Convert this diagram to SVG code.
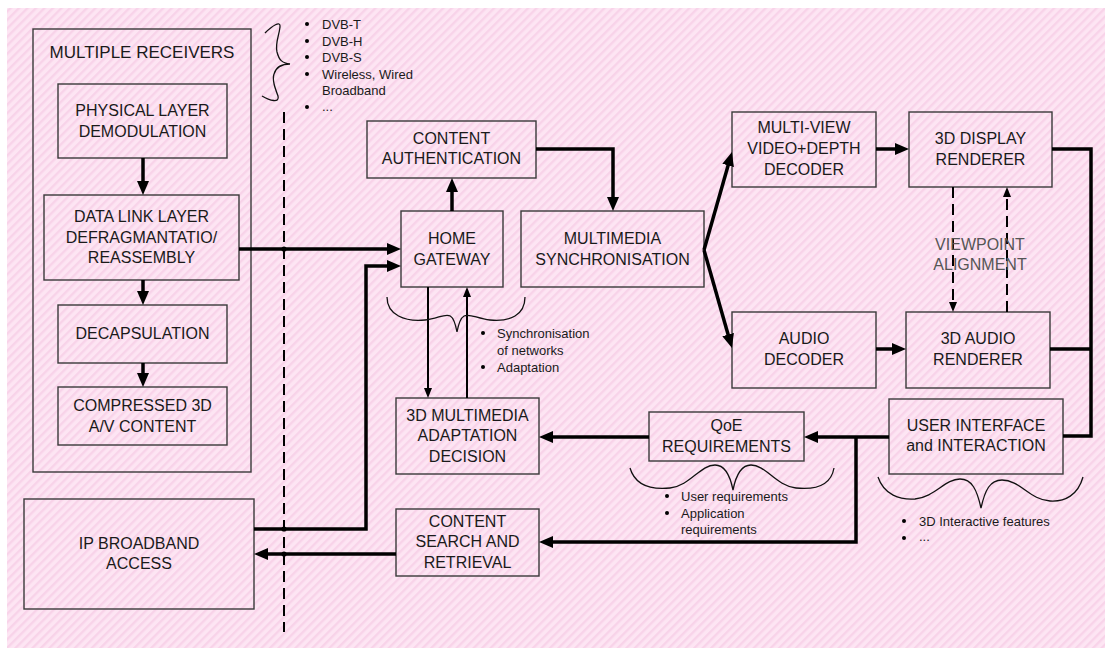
<svg xmlns="http://www.w3.org/2000/svg" width="1105" height="648" viewBox="0 0 1105 648">
<defs>
<pattern id="hatch" patternUnits="userSpaceOnUse" width="6" height="6" patternTransform="rotate(45)">
<rect width="6" height="6" fill="#fde5f3"/>
<rect width="2.4" height="6" fill="#f8d3e9"/>
</pattern>
<marker id="ah" viewBox="0 0 14 12" markerWidth="14" markerHeight="12" refX="8" refY="6" orient="auto" markerUnits="userSpaceOnUse"><path d="M0,0 L14,6 L0,12 z" fill="#000"/></marker>
<marker id="at" viewBox="0 0 10 8" markerWidth="10" markerHeight="8" refX="6" refY="4" orient="auto" markerUnits="userSpaceOnUse"><path d="M0,0 L10,4 L0,8 z" fill="#000"/></marker>
</defs>
<style>
.box{fill:none;stroke:#3a3a3a;stroke-width:1.4}
.lbl{font-family:"Liberation Sans",Arial,sans-serif;font-size:16px;fill:#1a1a1a;text-anchor:middle}
.bt{font-family:"Liberation Sans",Arial,sans-serif;font-size:13px;fill:#1a1a1a}
.thick{fill:none;stroke:#000;stroke-width:3.5}
.thin{fill:none;stroke:#000;stroke-width:2}
.dash{fill:none;stroke:#000;stroke-width:2;stroke-dasharray:11 6}
.brace{fill:none;stroke:#111;stroke-width:1.3}
.dot{fill:#000}
</style>
<rect x="7" y="8" width="1098" height="640" fill="url(#hatch)"/>

<g id="receivers">
<rect class="box" x="33" y="29" width="218" height="443"/>
<text class="lbl" x="142" y="58" style="font-size:17px">MULTIPLE RECEIVERS</text>
</g>
<g id="physical">
<rect class="box" x="58" y="84" width="169" height="74"/>
<text class="lbl" x="142.5" y="116">PHYSICAL LAYER</text>
<text class="lbl" x="142.5" y="137">DEMODULATION</text>
</g>
<g id="datalink">
<rect class="box" x="44" y="195" width="195" height="85"/>
<text class="lbl" x="141.5" y="222">DATA LINK LAYER</text>
<text class="lbl" x="141.5" y="243">DEFRAGMANTATIO/</text>
<text class="lbl" x="141.5" y="263">REASSEMBLY</text>
</g>
<g id="decap">
<rect class="box" x="58" y="305" width="169" height="58"/>
<text class="lbl" x="142.5" y="339">DECAPSULATION</text>
</g>
<g id="compressed">
<rect class="box" x="58" y="387" width="169" height="58"/>
<text class="lbl" x="142.5" y="411">COMPRESSED 3D</text>
<text class="lbl" x="142.5" y="432">A/V CONTENT</text>
</g>
<g id="ipbroadband">
<rect class="box" x="24" y="499" width="230" height="110"/>
<text class="lbl" x="139" y="549">IP BROADBAND</text>
<text class="lbl" x="139" y="569">ACCESS</text>
</g>
<g id="contentauth">
<rect class="box" x="367" y="121" width="169" height="57"/>
<text class="lbl" x="451.5" y="144">CONTENT</text>
<text class="lbl" x="451.5" y="164">AUTHENTICATION</text>
</g>
<g id="homegateway">
<rect class="box" x="401" y="211" width="102" height="76"/>
<text class="lbl" x="452" y="244">HOME</text>
<text class="lbl" x="452" y="265">GATEWAY</text>
</g>
<g id="sync">
<rect class="box" x="521" y="211" width="183" height="76"/>
<text class="lbl" x="612.5" y="244">MULTIMEDIA</text>
<text class="lbl" x="612.5" y="265">SYNCHRONISATION</text>
</g>
<g id="adaptation">
<rect class="box" x="396" y="398" width="143" height="76"/>
<text class="lbl" x="467.5" y="421">3D MULTIMEDIA</text>
<text class="lbl" x="467.5" y="441">ADAPTATION</text>
<text class="lbl" x="467.5" y="462">DECISION</text>
</g>
<g id="contentsearch">
<rect class="box" x="396" y="509" width="143" height="67"/>
<text class="lbl" x="467.5" y="527">CONTENT</text>
<text class="lbl" x="467.5" y="547">SEARCH AND</text>
<text class="lbl" x="467.5" y="568">RETRIEVAL</text>
</g>
<g id="qoe">
<rect class="box" x="649" y="412" width="155" height="49"/>
<text class="lbl" x="726.5" y="431">QoE</text>
<text class="lbl" x="726.5" y="452">REQUIREMENTS</text>
</g>
<g id="userinterface">
<rect class="box" x="889" y="399" width="174" height="75"/>
<text class="lbl" x="976" y="431">USER INTERFACE</text>
<text class="lbl" x="976" y="451">and INTERACTION</text>
</g>
<g id="multiview">
<rect class="box" x="732" y="112" width="144" height="75"/>
<text class="lbl" x="804" y="133">MULTI-VIEW</text>
<text class="lbl" x="804" y="154">VIDEO+DEPTH</text>
<text class="lbl" x="804" y="175">DECODER</text>
</g>
<g id="display">
<rect class="box" x="909" y="112" width="143" height="75"/>
<text class="lbl" x="980.5" y="144">3D DISPLAY</text>
<text class="lbl" x="980.5" y="165">RENDERER</text>
</g>
<g id="audiodecoder">
<rect class="box" x="732" y="312" width="144" height="76"/>
<text class="lbl" x="804" y="344">AUDIO</text>
<text class="lbl" x="804" y="365">DECODER</text>
</g>
<g id="audiorenderer">
<rect class="box" x="906" y="312" width="144" height="76"/>
<text class="lbl" x="978" y="344">3D AUDIO</text>
<text class="lbl" x="978" y="365">RENDERER</text>
</g>

<g id="connectors">
<path class="dash" d="M284,112 V632" stroke-dasharray="12 6"/>
<path class="thick" d="M143,158 V189" marker-end="url(#ah)"/>
<path class="thick" d="M143,280 V299" marker-end="url(#ah)"/>
<path class="thick" d="M143,363 V381" marker-end="url(#ah)"/>
<path class="thick" d="M239,249 H395" marker-end="url(#ah)"/>
<path class="thick" d="M254,529 H366 V266 H395" marker-end="url(#ah)"/>
<path class="thick" d="M452,211 V184" marker-end="url(#ah)"/>
<path class="thick" d="M536,149 H613 V205" marker-end="url(#ah)"/>
<path class="thick" d="M704,250 L730.3,157.8" marker-end="url(#ah)"/>
<path class="thick" d="M704,250 L730.3,342.2" marker-end="url(#ah)"/>
<path class="thick" d="M876,149 H903" marker-end="url(#ah)"/>
<path class="thick" d="M876,349 H900" marker-end="url(#ah)"/>
<path class="dash" d="M953,187 V308" marker-end="url(#at)"/>
<path class="dash" d="M1007,312 V191" marker-end="url(#at)"/>
<path class="thick" d="M1052,149 H1091 V436 H1063"/>
<path class="thick" d="M1050,349 H1091"/>
<path class="thick" d="M889,437 H810" marker-end="url(#ah)"/>
<path class="thick" d="M856,437 V542 H545" marker-end="url(#ah)"/>
<path class="thick" d="M649,437 H545" marker-end="url(#ah)"/>
<path class="thick" d="M396,554 H260" marker-end="url(#ah)"/>
<path class="thin" d="M428,287 V394" marker-end="url(#at)"/>
<path class="thin" d="M467,398 V291" marker-end="url(#at)"/>
<circle class="dot" cx="284" cy="249" r="2.6"/>
<circle class="dot" cx="284" cy="529" r="2.6"/>
<circle class="dot" cx="284" cy="554" r="2.6"/>
</g>

<g id="viewpoint">
<text class="lbl" x="980" y="250" style="fill:#555">VIEWPOINT</text>
<text class="lbl" x="980" y="270" style="fill:#555">ALIGNMENT</text>
</g>

<g id="braces">
<path class="brace" d="M265,33 C272,26 281,20 280,27 C279,36 275,43 277,52 C279,60 282,63 290,64 C282,64 276,67 274,74 C272,80 275,88 278,96 C280,103 270,101 262,96"/>
<path class="brace" d="M387,297 C387,315 405,322 425,320 C445,318 452,305 457,332 C462,305 470,318 490,320 C510,322 525,315 525,297"/>
<path class="brace" d="M630,468 C635,485 650,490 670,488 C690,486 700,465 715,465 C725,465 730,475 733,490 C736,475 741,465 751,465 C766,465 776,486 796,488 C816,490 831,485 834,468"/>
<path class="brace" d="M878,477 C884,495 900,500 915,499 C935,497 945,479 960,479 C972,479 977,490 981,508 C985,490 990,480 1002,480 C1020,480 1030,500 1050,501 C1065,502 1078,495 1083,477"/>
</g>

<g id="bullets-dvb">
<circle class="dot" cx="307" cy="24" r="2"/>
<circle class="dot" cx="307" cy="41" r="2"/>
<circle class="dot" cx="307" cy="57" r="2"/>
<circle class="dot" cx="307" cy="74" r="2"/>
<circle class="dot" cx="307" cy="107" r="2"/>
<text class="bt" x="322" y="29">DVB-T</text>
<text class="bt" x="322" y="45.5">DVB-H</text>
<text class="bt" x="322" y="62">DVB-S</text>
<text class="bt" x="322" y="78.5">Wireless, Wired</text>
<text class="bt" x="322" y="95">Broadband</text>
<text class="bt" x="322" y="111">...</text>
</g>
<g id="bullets-gateway">
<circle class="dot" cx="483" cy="333" r="2"/>
<circle class="dot" cx="483" cy="367" r="2"/>
<text class="bt" x="497" y="338">Synchronisation</text>
<text class="bt" x="497" y="355">of networks</text>
<text class="bt" x="497" y="372">Adaptation</text>
</g>
<g id="bullets-qoe">
<circle class="dot" cx="667" cy="496" r="2"/>
<circle class="dot" cx="667" cy="513" r="2"/>
<text class="bt" x="681" y="501">User requirements</text>
<text class="bt" x="681" y="518">Application</text>
<text class="bt" x="681" y="534">requirements</text>
</g>
<g id="bullets-ui">
<circle class="dot" cx="904" cy="521" r="2"/>
<circle class="dot" cx="904" cy="538" r="2"/>
<text class="bt" x="919" y="526">3D Interactive features</text>
<text class="bt" x="919" y="541">...</text>
</g>
</svg>
